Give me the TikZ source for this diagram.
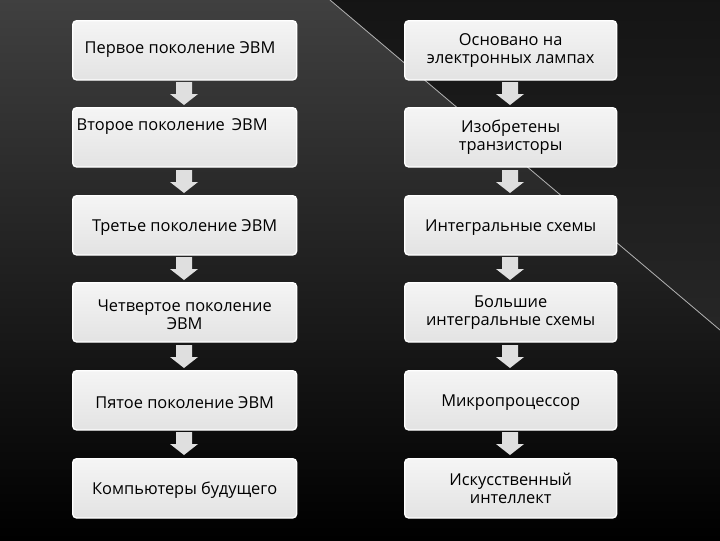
\documentclass[tikz,border=0pt]{standalone}
\usepackage{fontspec}
\setmainfont{Open Sans}
\begin{document}
\begin{tikzpicture}[x=0.75pt,y=-0.75pt,
  box/.style={draw=white,line width=1pt,rounded corners=3pt,top color=white!92!gray,bottom color=gray!22,minimum height=44.5pt,anchor=north west},
  lbl/.style={font=\fontsize{12.3pt}{13.5pt}\selectfont,align=center,text=black},
  barrow/.style={fill=gray!25,draw=none}]
\useasboundingbox (0,0) rectangle (720,540);
\shade[top color=black!75,bottom color=black] (0,0) rectangle (720,540);
\shade[top color=black!92,bottom color=black!85] (330,0) -- (720,0) -- (720,330) -- cycle;
\draw[gray!60,line width=0.6pt] (330,0) -- (720,330);
\foreach \i/\y in {1/20,2/107,3/195,4/282,5/370,6/458}{
  \node[box,minimum width=168pt] (L\i) at (72,\y) {};
  \node[box,minimum width=159pt] (R\i) at (404,\y) {};
}
\foreach \i/\j/\y in {1/2/82,2/3/170,3/4/257,4/5/345,5/6/432}{
  \foreach \x in {184,510}{
    \fill[barrow] (\x-8,\y) -- (\x+8,\y) -- (\x+8,\y+12) -- (\x+14,\y+12) -- (\x,\y+23) -- (\x-14,\y+12) -- (\x-8,\y+12) -- cycle;
  }
}
\node[lbl,anchor=west] (t1) at (80,50) {Первое поколение ЭВМ};
\node[lbl,anchor=west] (t2) at (72,127) {Второе поколение \,ЭВМ};
\node[lbl] (t3) at ([yshift=-1.5pt]L3.center) {Третье поколение ЭВМ};
\node[lbl] (t4) at ([yshift=-1.5pt]L4.center) {Четвертое поколение\\ЭВМ};
\node[lbl] (t5) at ([yshift=-1.5pt]L5.center) {Пятое поколение ЭВМ};
\node[lbl] (t6) at ([yshift=-1.5pt]L6.center) {Компьютеры будущего};
\node[lbl] (s1) at (R1) {Основано на\\электронных лампах};
\node[lbl] (s2) at (R2) {Изобретены\\транзисторы};
\node[lbl] (s3) at ([yshift=-1.5pt]R3.center) {Интегральные схемы};
\node[lbl] (s4) at (R4) {Большие\\интегральные схемы};
\node[lbl] (s5) at ([yshift=-1.5pt]R5.center) {Микропроцессор};
\node[lbl] (s6) at (R6) {Искусственный\\интеллект};
\end{tikzpicture}
\end{document}
